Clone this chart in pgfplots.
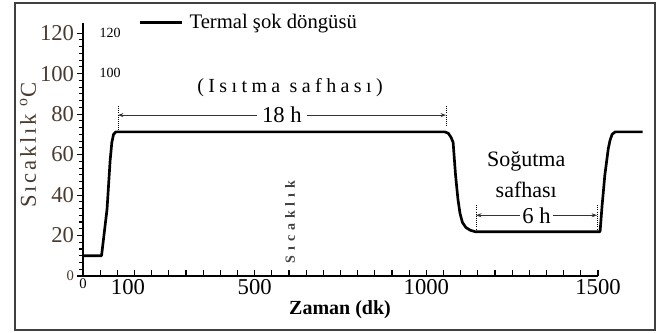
\documentclass[border=0pt]{standalone}
\usepackage{pgfplots}
\pgfplotsset{compat=1.18}
\usepackage{fontspec}
\setmainfont{Liberation Serif}
\newfontfamily\spaced[LetterSpace=22]{Liberation Serif}
\newfontfamily\spacedy[LetterSpace=12]{Liberation Serif}
\newfontfamily\spacedb[LetterSpace=35]{Liberation Serif}
\usetikzlibrary{arrows.meta}
\definecolor{ylab}{HTML}{4A3B30}
\begin{document}
\begin{tikzpicture}[x=0.75pt,y=0.75pt]
\path[use as bounding box] (-83,-56) rectangle (583,276);
\draw[line width=1.3pt, black!75] (-68,-54) rectangle (572,273);
\begin{axis}[
  scale only axis, width=386.25pt, height=189.75pt,
  xmin=0, xmax=1500, ymin=0, ymax=125,
  axis x line=bottom, axis y line=left,
  axis line style={-, line width=1.1pt},
  clip=false,
  xtick={0,50,...,1500},
  xticklabels={{\fontsize{11}{12}\selectfont 0},,\hspace*{16pt}100,,,,,,,,500,,,,,,,,,,1000,,,,,,,,,,1500},
  ytick={0,20,...,120},
  yticklabels={{\fontsize{11}{12}\selectfont 0},20,40,60,80,100,120},
  minor y tick num=5,
  xtick align=inside, ytick align=outside,
  major tick length=4.5pt, minor tick length=3pt,
  tick style={line width=0.8pt, black},
  ticklabel style={font=\fontsize{17}{19}\selectfont},
  yticklabel style={text=ylab, inner sep=2pt},
  xticklabel style={inner sep=2pt},
  legend style={at={(axis cs:162,125.4)}, anchor=west, draw=none, fill=none, inner sep=0pt,
    font=\fontsize{15.5}{18}\selectfont},
  legend cell align=left,
  legend image code/.code={\draw[#1] (0pt,0pt) -- (31pt,0pt);},
]
\addplot[black, line width=2pt, line join=round] coordinates {
(0,10) (54,10) (70,33) (79,57) (84,66) (89,70) (96,71.2) (1054,71.2) (1064,70.5) (1072,68.5) (1078,66)
(1085,50) (1092,38) (1098,31) (1105,26.5) (1115,24) (1128,22.6) (1142,21.9) (1506,21.9)
(1512,35) (1520,50) (1530,63) (1535,67) (1541,70) (1550,71.2) (1630,71.2)};
\addlegendentry{\hspace*{3pt}Termal şok döngüsü}
% annotations
\node[font=\fontsize{15}{17}\selectfont\spaced] at (axis cs:603,93) {(Isıtma safhası)};
\draw[{Stealth[length=4pt]}-{Stealth[length=4pt]}, line width=0.6pt, black!80] (axis cs:102,79.5) -- (axis cs:1057,79.5)
  node[midway, fill=white, inner sep=4pt, font=\fontsize{17}{19}\selectfont, text=black] {18 h};
\draw[densely dotted, line width=0.6pt] (axis cs:102,84) -- (axis cs:102,71);
\draw[densely dotted, line width=0.6pt] (axis cs:1057,84) -- (axis cs:1057,74);
\node[font=\fontsize{16.5}{18}\selectfont] at (axis cs:1291,56.5) {Soğutma};
\node[font=\fontsize{16.5}{18}\selectfont] at (axis cs:1291,42.7) {safhası};
\draw[{Stealth[length=4pt]}-{Stealth[length=4pt]}, line width=0.6pt, black!80] (axis cs:1145,30) -- (axis cs:1497,30)
  node[midway, fill=white, inner sep=2pt, font=\fontsize{17}{19}\selectfont, text=black] {6 h};
\draw[densely dotted, line width=0.6pt] (axis cs:1145,35) -- (axis cs:1145,22);
\draw[densely dotted, line width=0.6pt] (axis cs:1497,35) -- (axis cs:1497,22);
\end{axis}
\node[font=\fontsize{10.5}{12}\selectfont] at (27,243) {120};
\node[font=\fontsize{10.5}{12}\selectfont] at (27,203) {100};
\node[rotate=90, font=\fontsize{10.5}{12}\selectfont\bfseries\spacedb, text=black!75] at (207,54) {Sıcaklık};
\node[rotate=90, font=\fontsize{17}{19}\selectfont\spacedy, text=ylab] at (-55,131) {Sıcaklık \textsuperscript{o}C};
\node[font=\fontsize{15}{17}\selectfont\bfseries] at (257,-34) {Zaman (dk)};
\end{tikzpicture}
\end{document}
